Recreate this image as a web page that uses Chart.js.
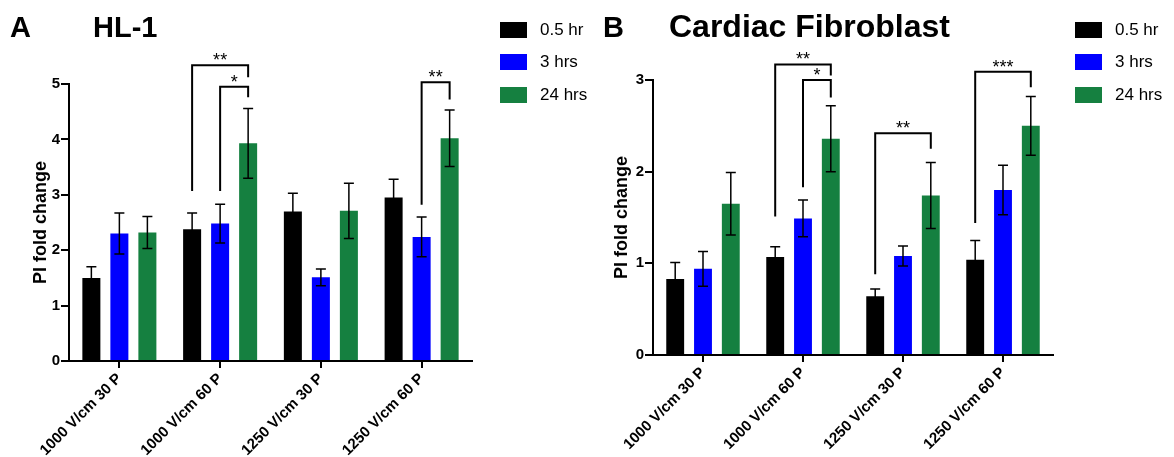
<!DOCTYPE html>
<html>
<head>
<meta charset="utf-8">
<script src="https://cdn.jsdelivr.net/npm/chart.js@4.4.0/dist/chart.umd.min.js"></script>
<style>
  body { margin: 0; background: #fff; font-family: "Liberation Sans", Arial, sans-serif; }
  #wrap { position: relative; width: 1174px; height: 457px; overflow: hidden; }
  canvas { position: absolute; top: 0; }
  #chartA { left: 0; }
  #chartB { left: 587px; }
  .legend { position: absolute; top: 22px; }
  .row { display: flex; align-items: center; height: 16px; margin-bottom: 16.4px; font-size: 17px; color: #000; }
  .sw { width: 27px; height: 16px; margin-right: 13px; }
</style>
</head>
<body>
<div id="wrap">
  <canvas id="chartA" width="587" height="457"></canvas>
  <canvas id="chartB" width="587" height="457"></canvas>
  <div class="legend" id="legendA" style="left:500px"></div>
  <div class="legend" id="legendB" style="left:1075px"></div>
</div>
<script>
// Categories and series
const categories = ['1000 V/cm 30 P', '1000 V/cm 60 P', '1250 V/cm 30 P', '1250 V/cm 60 P'];
const seriesNames = ['0.5 hr', '3 hrs', '24 hrs'];
const seriesColors = ['#000000', '#0000ff', '#158040'];

// A: HL-1 (mean, error)
const hl1Half = [1.50, 2.38, 2.70, 2.95];
const hl1Three = [2.30, 2.48, 1.51, 2.24];
const hl1Day = [2.32, 3.93, 2.71, 4.02];
const hl1HalfErr = [0.20, 0.29, 0.33, 0.33];
const hl1ThreeErr = [0.37, 0.35, 0.15, 0.36];
const hl1DayErr = [0.29, 0.63, 0.50, 0.51];

// B: Cardiac Fibroblast (mean, error)
const fibHalf = [0.83, 1.07, 0.64, 1.04];
const fibThree = [0.94, 1.49, 1.08, 1.80];
const fibDay = [1.65, 2.36, 1.74, 2.50];
const fibHalfErr = [0.18, 0.11, 0.08, 0.21];
const fibThreeErr = [0.19, 0.20, 0.11, 0.27];
const fibDayErr = [0.34, 0.36, 0.36, 0.32];

// y axis ticks
const hl1Ticks = [0, 1, 2, 3, 4, 5];
const fibTicks = [0, 1, 2, 3];

// significance brackets: [category, from series, to series, top, from leg end, to leg end, label]
const hl1Sig = [
  [1, 0, 2, 5.34, 3.07, 5.12, '**'],
  [1, 1, 2, 4.95, 3.07, 4.76, '*'],
  [3, 1, 2, 5.03, 2.82, 4.72, '**']
];
const fibSig = [
  [1, 0, 2, 3.17, 1.51, 3.05, '**'],
  [1, 1, 2, 3.00, 1.83, 2.81, '*'],
  [2, 0, 2, 2.42, 0.88, 2.25, '**'],
  [3, 0, 2, 3.09, 1.44, 2.92, '***']
];

const FONT = '"Liberation Sans", Arial, sans-serif';

// error bars, brackets and panel titles
const sigMarks = {
  id: 'sigMarks',
  afterDatasetsDraw(chart, args, opts) {
    const ctx = chart.ctx;
    const y = chart.scales.y;
    ctx.save();
    ctx.strokeStyle = '#000';
    ctx.lineWidth = 1.5;
    opts.errors.forEach((errs, i) => {
      chart.getDatasetMeta(i).data.forEach((bar, j) => {
        const v = chart.data.datasets[i].data[j];
        const top = y.getPixelForValue(v + errs[j]);
        const bot = y.getPixelForValue(v - errs[j]);
        ctx.beginPath();
        ctx.moveTo(bar.x, top); ctx.lineTo(bar.x, bot);
        ctx.moveTo(bar.x - 5, top); ctx.lineTo(bar.x + 5, top);
        ctx.moveTo(bar.x - 5, bot); ctx.lineTo(bar.x + 5, bot);
        ctx.stroke();
      });
    });

    ctx.lineWidth = 2;
    ctx.fillStyle = '#000';
    ctx.font = '18px ' + FONT;
    ctx.textAlign = 'center';
    ctx.textBaseline = 'alphabetic';
    opts.brackets.forEach(b => {
      const x1 = chart.getDatasetMeta(b[1]).data[b[0]].x;
      const x2 = chart.getDatasetMeta(b[2]).data[b[0]].x;
      const yt = y.getPixelForValue(b[3]);
      ctx.beginPath();
      ctx.moveTo(x1, y.getPixelForValue(b[4]));
      ctx.lineTo(x1, yt);
      ctx.lineTo(x2, yt);
      ctx.lineTo(x2, y.getPixelForValue(b[5]));
      ctx.stroke();
      ctx.fillText(b[6], (x1 + x2) / 2, yt + 1);
    });
    ctx.restore();
  },
  afterDraw(chart, args, opts) {
    const ctx = chart.ctx;
    ctx.save();
    ctx.fillStyle = '#000';
    ctx.textBaseline = 'alphabetic';
    ctx.font = 'bold 29px ' + FONT;
    ctx.fillText(opts.letter, opts.letterX, 37);
    ctx.font = 'bold ' + opts.titleSize + 'px ' + FONT;
    ctx.fillText(opts.title, opts.titleX, 37);
    ctx.restore();
  }
};

function makePanel(id, series, errors, brackets, ticks, pad, yWidth, xHeight, head) {
  return new Chart(document.getElementById(id), {
    type: 'bar',
    data: {
      labels: categories,
      datasets: series.map((d, i) => ({
        label: seriesNames[i],
        data: d,
        backgroundColor: seriesColors[i],
        borderWidth: 0,
        categoryPercentage: 0.834,
        barPercentage: 0.643
      }))
    },
    plugins: [sigMarks],
    options: {
      responsive: false,
      animation: false,
      layout: { padding: pad },
      plugins: {
        legend: { display: false },
        tooltip: { enabled: false },
        sigMarks: Object.assign({ errors: errors, brackets: brackets }, head)
      },
      scales: {
        x: {
          grid: { drawOnChartArea: false, offset: false, color: '#000', lineWidth: 2, tickLength: 7 },
          border: { color: '#000', width: 2 },
          ticks: { color: '#000', font: { family: FONT, size: 15, weight: 'bold' }, minRotation: 45, maxRotation: 45, padding: 2, autoSkip: false },
          afterFit: s => { s.height = xHeight; }
        },
        y: {
          min: ticks[0],
          max: ticks[ticks.length - 1],
          afterBuildTicks: s => { s.ticks = ticks.map(v => ({ value: v })); },
          ticks: { color: '#000', font: { family: FONT, size: 15, weight: 'bold' }, padding: 1 },
          grid: { drawOnChartArea: false, color: '#000', lineWidth: 2, tickLength: 8 },
          border: { color: '#000', width: 2 },
          title: { display: true, text: 'PI fold change', color: '#000', font: { family: FONT, size: 18, weight: 'bold' }, padding: { top: 4, bottom: 4 } },
          afterFit: s => { s.width = yWidth; }
        }
      }
    }
  });
}

function makeLegend(id) {
  const box = document.getElementById(id);
  seriesNames.forEach((name, i) => {
    const row = document.createElement('div');
    row.className = 'row';
    row.innerHTML = '<div class="sw" style="background:' + seriesColors[i] + '"></div><span>' + name + '</span>';
    box.appendChild(row);
  });
}

makePanel('chartA', [hl1Half, hl1Three, hl1Day], [hl1HalfErr, hl1ThreeErr, hl1DayErr], hl1Sig, hl1Ticks,
  { left: 26, right: 115, top: 84, bottom: 0 }, 43, 96,
  { letter: 'A', letterX: 10, title: 'HL-1', titleX: 93, titleSize: 29 });
makePanel('chartB', [fibHalf, fibThree, fibDay], [fibHalfErr, fibThreeErr, fibDayErr], fibSig, fibTicks,
  { left: 20, right: 121, top: 80, bottom: 0 }, 46, 102,
  { letter: 'B', letterX: 16, title: 'Cardiac Fibroblast', titleX: 82, titleSize: 32 });
makeLegend('legendA');
makeLegend('legendB');
</script>
</body>
</html>
